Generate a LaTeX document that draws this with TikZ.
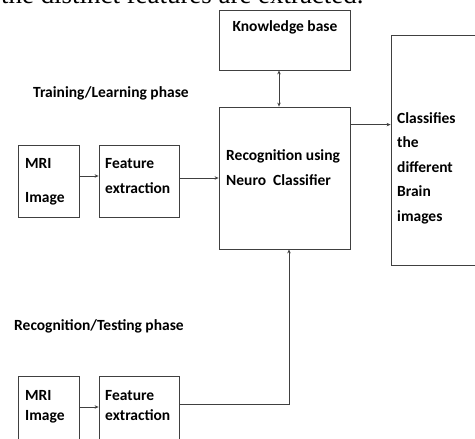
\documentclass[tikz,border=0pt]{standalone}
\usepackage{fontspec}
\setmainfont{Carlito}
\newfontfamily\timesfont{Liberation Serif}
\usepackage{tikz}
\usetikzlibrary{positioning, arrows.meta}

\begin{document}
\begin{tikzpicture}[
				x=1pt, y=-1pt,
				box/.style={draw=black!75, line width=0.8pt, inner sep=0pt},
				lbl/.style={font=\fontsize{15.5}{24.5}\selectfont\bfseries, inner sep=0pt, align=left},
				arr/.style={draw=black!75, line width=0.8pt, -{Stealth[length=4pt,width=3.5pt]}}
				]
				\useasboundingbox (0,0) rectangle (475,439);
				% text cut off by the top edge
				\node[font=\fontsize{26.9}{30}\timesfont, anchor=base west, inner sep=0pt] (cuttext) at (1,4) {the distinct features are extracted.};
				% boxes
				\node[box, minimum width=131pt, minimum height=60pt] (kb) at (284.5,40) {};
				\node[box, minimum width=131pt, minimum height=142pt] (rec) at (284.5,178) {};
				\node[box, minimum width=110pt, minimum height=230pt] (cls) at (446,150) {};
				\node[box, minimum width=61pt, minimum height=72pt] (mri1) at (48.5,181) {};
				\node[box, minimum width=80pt, minimum height=72pt] (fe1) at (139,181) {};
				\node[box, minimum width=61pt, minimum height=84pt] (mri2) at (48.5,418) {};
				\node[box, minimum width=80pt, minimum height=84pt] (fe2) at (139,418) {};
				% texts (anchored at the baseline of the last line)
				\node[lbl, anchor=base] (kbtext) at (285,31) {Knowledge base};
				\node[lbl, anchor=base west] (train) at (33,97) {Training/Learning phase};
				\node[lbl, anchor=base west] (test) at (14,330) {Recognition/Testing phase};
				\node[lbl, anchor=base west] (rectext) at (226,185) {Recognition using\\Neuro~ Classifier};
				\node[lbl, anchor=base west] (clstext) at (397,221) {Classifies\\the\\different\\Brain\\images};
				\node[lbl, anchor=base west] (mri1text) at (25,202) {MRI\\[9pt]Image};
				\node[lbl, anchor=base west] (fe1text) at (105,193) {Feature\\extraction};
				\node[lbl, anchor=base west] (mri2text) at (25,420) {MRI\\[-4.5pt]Image};
				\node[lbl, anchor=base west] (fe2text) at (105,420) {Feature\\[-4.5pt]extraction};
				% connectors
				\draw[arr, {Stealth[length=4pt,width=3.5pt]}-{Stealth[length=4pt,width=3.5pt]}] ([xshift=-5.5pt]kb.south) -- ([xshift=-5.5pt]rec.north);
				\draw[arr] ([yshift=-18pt]rec.north east) -- ([yshift=-18pt]rec.north east -| cls.west);
				\draw[arr] ([yshift=5pt]mri1.east) -- ([yshift=5pt]fe1.west);
				\draw[arr] ([yshift=3pt]fe1.east) -- ([yshift=3pt]fe1.east -| rec.west);
				\draw[arr] ([yshift=11pt]mri2.east) -- ([yshift=11pt]fe2.west);
				\draw[arr] ([yshift=14pt]fe2.east) -| ([xshift=4.5pt]rec.south);
			\end{tikzpicture}
\end{document}
